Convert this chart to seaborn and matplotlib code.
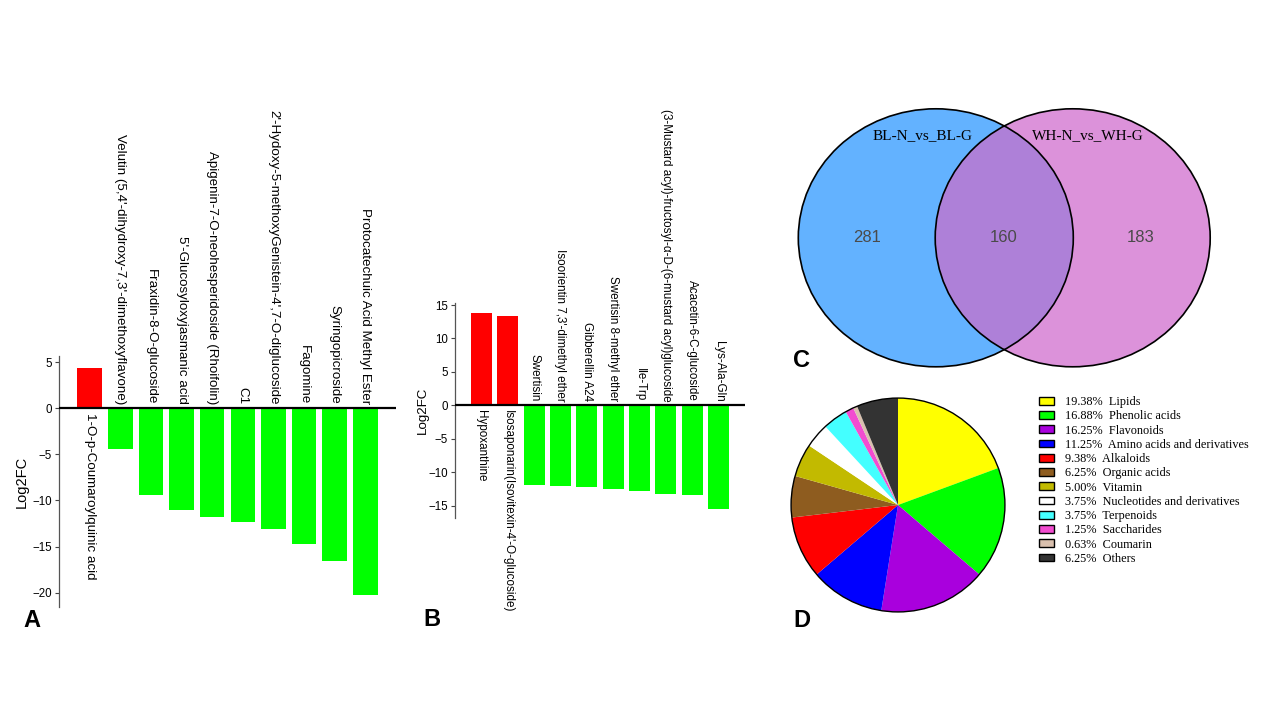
import numpy as np
import pandas as pd
import seaborn as sns
import matplotlib.pyplot as plt
from matplotlib.patches import Ellipse, Circle, Patch

# Panel A: differential metabolites (Log2FC)
a_names = [
    "1-O-p-Coumaroylquinic acid",
    "Velutin (5,4'-dihydroxy-7,3'-dimethoxyflavone)",
    "Fraxidin-8-O-glucoside",
    "5'-Glucosyloxyjasmanic acid",
    "Apigenin-7-O-neohesperidoside (Rhoifolin)",
    "C1",
    "2'-Hydoxy-5-methoxyGenistein-4',7-O-diglucoside",
    "Fagomine",
    "Syringopicroside",
    "Protocatechuic Acid Methyl Ester",
]
a_values = [4.4, -4.4, -9.4, -11.0, -11.8, -12.3, -13.1, -14.7, -16.6, -20.3]

# Panel B
b_names = [
    "Hypoxanthine",
    "Isosaponarin(Isovitexin-4'-O-glucoside)",
    "Swertisin",
    "Isoorientin 7,3'-dimethyl ether",
    "Gibberellin A24",
    "Swertisin 8-methyl ether",
    "Ile-Trp",
    "(3-Mustard acyl)-fructosyl-\u03b1-D-(6-mustard acyl)glucoside",
    "Acacetin-6-C-glucoside",
    "Lys-Ala-Gln",
]
b_values = [13.75, 13.4, -11.8, -12.0, -12.2, -12.45, -12.8, -13.25, -13.4, -15.4]

# Panel C: Venn counts
venn_sets = ["BL-N_vs_BL-G", "WH-N_vs_WH-G"]
venn_counts = [281, 160, 183]  # left only, shared, right only

# Panel D: class composition
pie_labels = ["Lipids", "Phenolic acids", "Flavonoids", "Amino acids and derivatives",
              "Alkaloids", "Organic acids", "Vitamin", "Nucleotides and derivatives",
              "Terpenoids", "Saccharides", "Coumarin", "Others"]
pie_pcts = [19.38, 16.88, 16.25, 11.25, 9.38, 6.25, 5.00, 3.75, 3.75, 1.25, 0.63, 6.25]
pie_colors = ["#FFFF00", "#00FF00", "#A900DD", "#0000FF", "#FF0000", "#8E5C1F",
              "#C2BA00", "#FFFFFF", "#44FFFF", "#F24CD0", "#D9C0AE", "#333333"]

sns.set_theme(style="white")
plt.rcParams['font.family'] = ['Liberation Sans', 'DejaVu Sans']
plt.rcParams['text.color'] = 'black'
plt.rcParams['axes.labelcolor'] = 'black'
plt.rcParams['ytick.color'] = 'black'

W, H = 1280, 720
fig = plt.figure(figsize=(12.8, 7.2), dpi=100)


def px_axes(x0, y0, x1, y1):
    return fig.add_axes([x0 / W, 1 - y1 / H, (x1 - x0) / W, (y1 - y0) / H])


def bar_panel(ax, names, values, ylim, yticks, label_size, ylabel_size, pad):
    df = pd.DataFrame({"name": names, "log2fc": values})
    df["dir"] = np.where(df["log2fc"] > 0, "up", "down")
    sns.barplot(data=df, x="name", y="log2fc", hue="dir", order=names,
                palette={"up": "#FF0000", "down": "#00FF00"}, dodge=False,
                saturation=1, width=0.8, linewidth=0, legend=False, ax=ax)
    ax.set_xlim(-1, 10)
    ax.set_ylim(*ylim)
    ax.set_yticks(yticks)
    ax.set_xticks([])
    ax.set_xlabel("")
    ax.set_ylabel("Log2FC", fontsize=ylabel_size, labelpad=pad)
    ax.tick_params(axis='y', labelsize=8.3, length=3, width=0.8, color="#444444", left=True, pad=2)
    for s in ["top", "right", "bottom"]:
        ax.spines[s].set_visible(False)
    ax.spines["left"].set_color("#555555")
    ax.spines["left"].set_linewidth(0.9)
    ax.axhline(0, color="black", lw=1.6, zorder=5)
    ax.patch.set_alpha(0)
    for i, (n, v) in enumerate(zip(names, values)):
        if v > 0:
            ax.annotate(n, xy=(i, 0), xytext=(0, -3), textcoords="offset points",
                        rotation=-90, ha="center", va="top", fontsize=label_size,
                        annotation_clip=False)
        else:
            ax.annotate(n, xy=(i, 0), xytext=(0, 3), textcoords="offset points",
                        rotation=-90, ha="center", va="bottom", fontsize=label_size,
                        annotation_clip=False)


# A
ax_a = px_axes(59, 356, 396, 607)
bar_panel(ax_a, a_names, a_values, (-21.56, 5.68), [5, 0, -5, -10, -15, -20], 9.6, 10.5, 3)

# B
ax_b = px_axes(455, 303, 745, 518)
bar_panel(ax_b, b_names, b_values, (-16.8, 15.3), [15, 10, 5, 0, -5, -10, -15], 8.4, 9.6, 0)

# C - Venn
ax_c = px_axes(790, 100, 1220, 380)
ax_c.set_xlim(790, 1220)
ax_c.set_ylim(380, 100)
ax_c.axis("off")
left = Ellipse((935.8, 237.8), 275, 258, facecolor="#63B2FF", edgecolor="none")
right = Ellipse((1072.7, 237.8), 275, 258, facecolor="#DC92DA", edgecolor="none")
ax_c.add_patch(left)
ax_c.add_patch(right)
overlap = Ellipse((1072.7, 237.8), 275, 258, facecolor="#AE80D8", edgecolor="none")
ax_c.add_patch(overlap)
overlap.set_clip_path(left)
for cx in (935.8, 1072.7):
    ax_c.add_patch(Ellipse((cx, 237.8), 275, 258, fill=False, edgecolor="black", lw=1.2))
for x, c in zip((867, 1004, 1141), venn_counts):
    ax_c.text(x, 238, str(c), ha="center", va="center", fontsize=12, color="#4a4a4a")
for x, s in zip((922.5, 1087.5), venn_sets):
    ax_c.text(x, 136, s, ha="center", va="center", fontsize=11,
              family=["Liberation Serif", "DejaVu Serif"])

# D - pie
ax_d = px_axes(788, 397, 1008, 613)
wedges, _ = ax_d.pie(pie_pcts, colors=pie_colors, startangle=90, counterclock=False,
                     wedgeprops={"linewidth": 0})
ax_d.add_patch(Circle((0, 0), 1, fill=False, edgecolor="black", lw=1))
ax_d.set_xlim(-1.01, 1.01)
ax_d.set_ylim(-1.01, 1.01)
ax_d.set_aspect("equal")

handles = [Patch(facecolor=c, edgecolor="black", linewidth=1) for c in pie_colors]
labels = [f"{p:.2f}%  {n}" for p, n in zip(pie_pcts, pie_labels)]
fig.legend(handles, labels, loc="upper left", bbox_to_anchor=(1039 / W, 1 - 396 / H),
           frameon=False, prop={"family": ["Liberation Serif", "DejaVu Serif"], "size": 8.8},
           handlelength=1.25, handleheight=0.6, labelspacing=0.185, handletextpad=0.85,
           borderaxespad=0, borderpad=0)

# panel letters
for x, y, s in [(23, 627, "A"), (423, 626, "B"), (793, 367, "C"), (793, 627, "D")]:
    fig.text(x / W, 1 - y / H, s, fontsize=17, fontweight="heavy", ha="left", va="baseline")

fig.savefig("out.png", dpi=100)
